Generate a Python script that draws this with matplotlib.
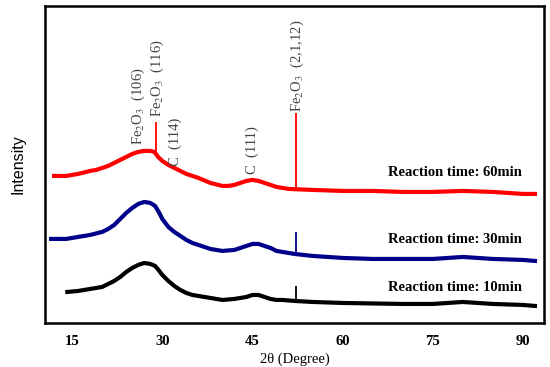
import numpy as np
import matplotlib
matplotlib.use("Agg")
import matplotlib.pyplot as plt

plt.rcParams['font.family'] = 'Liberation Serif'
plt.rcParams['mathtext.fontset'] = 'stix'

# === Data (intensity in arbitrary units) ===
red_x = [12, 14, 16, 18, 19, 20, 21, 22, 23, 24, 25, 26, 27, 28, 28.7, 29.3, 30,
         31, 32, 33, 34, 35, 36, 38, 40, 41, 42, 43, 44, 45, 46, 47, 48, 49, 50,
         51, 55, 60, 65, 70, 75, 80, 85, 90, 92]
red_y = [147, 147, 149, 152, 153, 155, 157, 160, 163, 166, 169, 171, 172, 172, 171,
         166, 162, 158, 155, 152, 149, 147, 145, 140, 137, 137, 138, 140, 142, 143,
         142, 140, 138, 136, 135, 134, 133, 132, 132, 131, 131, 132, 131, 129, 129]

blue_x = [11.5, 14, 16, 18, 20, 21, 22, 23, 24, 25, 26, 27, 28, 28.8, 29.5, 30,
          31, 32, 33, 34, 35, 36, 38, 40, 42, 43, 44, 45, 46, 47, 48, 49, 50, 52,
          55, 60, 65, 70, 75, 80, 85, 90, 92]
blue_y = [84, 84, 86, 88, 91, 94, 98, 104, 110, 115, 119, 121, 120, 117, 110, 104,
          96, 91, 87, 83, 80, 78, 74, 72, 73, 75, 77, 79, 79, 77, 75, 72, 71, 69,
          67, 65, 64, 64, 64, 66, 64, 63, 62]

black_x = [14.2, 16, 18, 20, 21, 22, 23, 24, 25, 26, 27, 28, 28.8, 29.5, 30, 31,
           32, 33, 34, 35, 36, 38, 40, 42, 43, 44, 45, 46, 47, 48, 49, 50, 52, 55,
           60, 70, 75, 80, 85, 90, 92]
black_y = [31, 32, 34, 36, 39, 42, 46, 51, 55, 58, 60, 59, 57, 52, 48, 42, 37, 33,
           30, 28, 27, 25, 23, 24, 25, 26, 28, 28, 26, 24, 23, 23, 22, 21, 20, 19,
           19, 21, 19, 18, 17]

# sharp reflections: (position, base, top)
red_spikes = [(29.0, 170, 201), (52.25, 134, 210)]
blue_spikes = [(52.25, 69, 91)]
black_spikes = [(52.25, 22, 37)]

series = [
    (red_x, red_y, red_spikes, 'red', 'Reaction time: 60min', 150),
    (blue_x, blue_y, blue_spikes, '#00008b', 'Reaction time: 30min', 83),
    (black_x, black_y, black_spikes, 'black', 'Reaction time: 10min', 35),
]

peak_labels = ['Fe$_2$O$_3$  (106)', 'Fe$_2$O$_3$  (116)', 'C  (114)', 'C  (111)',
               'Fe$_2$O$_3$  (2,1,12)']
peak_x = [26.0, 29.1, 32.1, 44.9, 52.4]
peak_y = [178, 206, 157, 149, 211]

# === Plot ===
fig = plt.figure(figsize=(5.5, 3.67), dpi=100)
ax = fig.add_axes([0.082, 0.12, 0.907, 0.864])

for xs, ys, spikes, color, label, ly in series:
    ax.plot(xs, ys, color=color, lw=3.0, solid_joinstyle='round')
    for pos, base, top in spikes:
        ax.vlines(pos, base, top, color=color, lw=1.3)
    ax.text(89.9, ly, label, ha='right', va='center', fontsize=10.5,
            fontweight='bold')

for lab, px, py in zip(peak_labels, peak_x, peak_y):
    ax.text(px, py, lab, rotation=90, ha='center', va='bottom', fontsize=10.5,
            color='#444444')

ax.set_xlim(10.5, 93.5)
ax.set_ylim(0, 317)
ax.set_xticks([15, 30, 45, 60, 75, 90])
ax.set_yticks([])
ax.tick_params(axis='x', length=0, pad=9, labelsize=10.5)
for t in ax.get_xticklabels():
    t.set_fontweight('bold')
for s in ax.spines.values():
    s.set_linewidth(1.8)

ax.set_xlabel('2θ (Degree)', fontsize=10.5, labelpad=3)
ax.set_ylabel('Intensity', fontsize=11.5, family='Liberation Sans', labelpad=14)

fig.savefig('out.png', dpi=100)
